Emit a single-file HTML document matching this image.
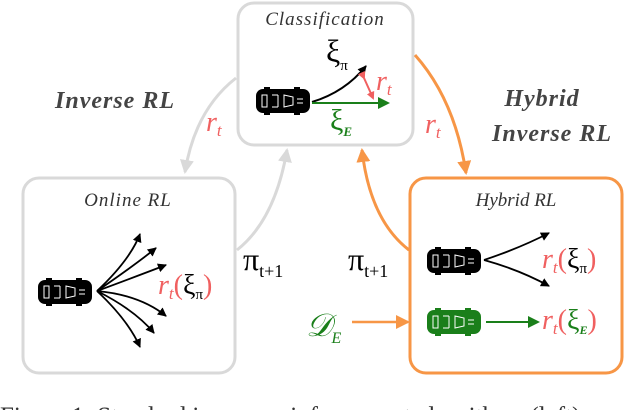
<!DOCTYPE html>
<html><head><meta charset="utf-8"><style>
html,body{margin:0;background:#fff;width:640px;height:410px;overflow:hidden;}
svg{display:block;font-family:"Liberation Serif",serif;}
</style></head><body>
<svg width="640" height="410" viewBox="0 0 640 410" xmlns="http://www.w3.org/2000/svg" overflow="hidden">
<defs>
<marker id="ab" markerWidth="9" markerHeight="9" refX="8" refY="4.5" orient="auto" markerUnits="userSpaceOnUse"><path d="M0,0 L9,4.5 L0,9 z" fill="#000"/></marker>
<marker id="ag" markerWidth="12" markerHeight="12" refX="10" refY="6" orient="auto" markerUnits="userSpaceOnUse"><path d="M0,0 L12,6 L0,12 z" fill="#1a7f1a"/></marker>
<marker id="agr" markerWidth="14" markerHeight="14" refX="12" refY="7" orient="auto" markerUnits="userSpaceOnUse"><path d="M0,0 L14,7 L0,14 z" fill="#d9d9d9"/></marker>
<marker id="ao" markerWidth="14" markerHeight="14" refX="12" refY="7" orient="auto" markerUnits="userSpaceOnUse"><path d="M0,0 L14,7 L0,14 z" fill="#f79646"/></marker>
<marker id="ar" markerWidth="8" markerHeight="8" refX="6" refY="4" orient="auto" markerUnits="userSpaceOnUse"><path d="M0,0 L8,4 L0,8 z" fill="#f06060"/></marker>
<g id="car">
<rect x="0" y="2" width="54" height="24" rx="7" fill="currentColor"/>
<rect x="8" y="0" width="6" height="3" fill="currentColor"/><rect x="38" y="0" width="6" height="3" fill="currentColor"/>
<rect x="8" y="25" width="6" height="3" fill="currentColor"/><rect x="38" y="25" width="6" height="3" fill="currentColor"/>
<rect x="6" y="8" width="5" height="12" fill="none" stroke="#fff" stroke-width="1"/>
<path d="M16,8 h6 M16,20 h6 M22,8 v12" stroke="#fff" stroke-width="1" fill="none"/>
<path d="M28,8 L37,10 v8 L28,20 z" fill="none" stroke="#fff" stroke-width="1"/>
<path d="M41,12 h6 M41,16 h6" stroke="#fff" stroke-width="1"/>
</g>
</defs>
<rect x="238" y="3" width="175" height="142" rx="16" fill="#fff" stroke="#d9d9d9" stroke-width="3"/>
<rect x="23" y="178" width="212" height="195" rx="16" fill="#fff" stroke="#d9d9d9" stroke-width="3"/>
<rect x="410" y="178" width="212" height="195" rx="16" fill="#fff" stroke="#f79646" stroke-width="3"/>
<text x="325" y="25" text-anchor="middle" font-size="19" font-style="italic" fill="#333" letter-spacing="1">Classification</text>
<text x="128" y="206" text-anchor="middle" font-size="19" font-style="italic" fill="#333" letter-spacing="1">Online RL</text>
<text x="516" y="206" text-anchor="middle" font-size="19" font-style="italic" fill="#333">Hybrid RL</text>
<path d="M236,78 Q195,110 185,172" fill="none" stroke="#d9d9d9" stroke-width="3" marker-end="url(#agr)"/>
<path d="M237,250 Q275,220 287,150" fill="none" stroke="#d9d9d9" stroke-width="3" marker-end="url(#agr)"/>
<path d="M415,55 Q455,100 466,173" fill="none" stroke="#f79646" stroke-width="3" marker-end="url(#ao)"/>
<path d="M409,250 Q370,220 362,150" fill="none" stroke="#f79646" stroke-width="3" marker-end="url(#ao)"/>
<path d="M352,322 L408,322" fill="none" stroke="#f79646" stroke-width="2.5" marker-end="url(#ao)"/>
<text x="115" y="108" text-anchor="middle" font-size="24" font-style="italic" font-weight="bold" fill="#444" letter-spacing="1">Inverse RL</text>
<text x="542" y="106" text-anchor="middle" font-size="24" font-style="italic" font-weight="bold" fill="#444" letter-spacing="1">Hybrid</text>
<text x="552" y="141" text-anchor="middle" font-size="24" font-style="italic" font-weight="bold" fill="#444" letter-spacing="1">Inverse RL</text>
<text x="206" y="131" font-size="28" font-style="italic" fill="#f06060">r<tspan font-size="17" dy="5">t</tspan></text>
<text x="425" y="133" font-size="28" font-style="italic" fill="#f06060">r<tspan font-size="17" dy="5">t</tspan></text>
<text x="243" y="270" font-size="32" fill="#000">π<tspan font-size="18" dy="7">t+1</tspan></text>
<text x="348" y="270" font-size="32" fill="#000">π<tspan font-size="18" dy="7">t+1</tspan></text>
<text x="306" y="336" font-size="32" font-style="italic" fill="#1a7f1a">𝒟<tspan font-size="16" dy="7">E</tspan></text>
<use href="#car" x="256" y="87" color="#000"/>
<path d="M312,102 Q345,92 366,66" fill="none" stroke="#000" stroke-width="2" marker-end="url(#ab)"/>
<path d="M312,103 L388,103" stroke="#1a7f1a" stroke-width="2" marker-end="url(#ag)"/>
<path d="M364,78 L373,98" stroke="#f06060" stroke-width="2" marker-start="url(#ar)" marker-end="url(#ar)"/>
<text x="326" y="62" font-size="32" fill="#000">ξ<tspan font-size="15" dy="8">π</tspan></text>
<text x="376" y="90" font-size="28" font-style="italic" fill="#f06060">r<tspan font-size="17" dy="5">t</tspan></text>
<text x="330" y="130" font-size="30" fill="#1a7f1a">ξ<tspan font-size="13" dy="6" font-style="italic" font-weight="bold">E</tspan></text>
<use href="#car" x="38" y="278" color="#000"/>
<g fill="none" stroke="#000" stroke-width="1.8" marker-end="url(#ab)">
<path d="M97,291 Q130,260 140,234"/>
<path d="M97,291 Q135,265 156,248"/>
<path d="M97,291 Q140,275 166,265"/>
<path d="M97,291 Q140,295 166,316"/>
<path d="M97,291 Q135,310 154,333"/>
<path d="M97,291 Q128,320 140,347"/>
</g>
<text x="158" y="294" font-size="28" font-style="italic" fill="#f06060">r<tspan font-size="17" dy="5">t</tspan><tspan font-style="normal" dy="-5">(</tspan><tspan font-style="normal" fill="#000">ξ</tspan><tspan font-size="15" dy="5" fill="#000" font-style="normal">π</tspan><tspan font-style="normal" dy="-5">)</tspan></text>
<use href="#car" x="427" y="247" color="#000"/>
<use href="#car" x="427" y="308" color="#1a7f1a"/>
<g fill="none" stroke="#000" stroke-width="1.8" marker-end="url(#ab)">
<path d="M484,260 Q520,248 549,233"/>
<path d="M484,260 Q520,270 549,286"/>
</g>
<path d="M486,322 L538,322" stroke="#1a7f1a" stroke-width="2" marker-end="url(#ag)"/>
<text x="542" y="268" font-size="28" font-style="italic" fill="#f06060">r<tspan font-size="17" dy="5">t</tspan><tspan font-style="normal" dy="-5">(</tspan><tspan font-style="normal" fill="#000">ξ</tspan><tspan font-size="15" dy="5" fill="#000" font-style="normal">π</tspan><tspan font-style="normal" dy="-5">)</tspan></text>
<text x="542" y="329" font-size="28" font-style="italic" fill="#f06060">r<tspan font-size="17" dy="5">t</tspan><tspan font-style="normal" dy="-5">(</tspan><tspan font-style="normal" fill="#1a7f1a">ξ</tspan><tspan font-size="12" dy="5" fill="#1a7f1a" font-weight="bold">E</tspan><tspan font-style="normal" dy="-5">)</tspan></text>
<text x="0" y="424" font-size="25" fill="#333">Figure 1: Standard inverse reinforcement algorithms (left)</text>
</svg>
</body></html>
